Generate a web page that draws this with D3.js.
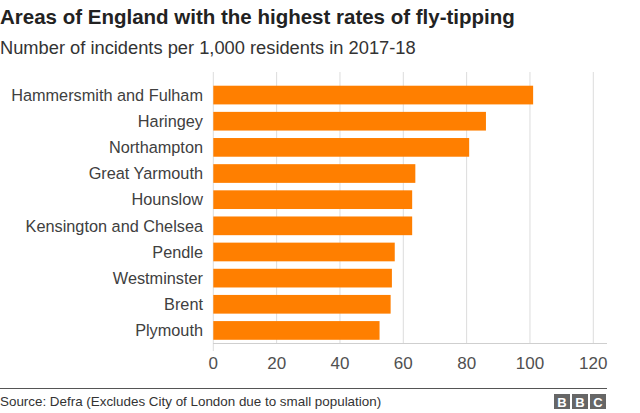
<!DOCTYPE html>
<html><head><meta charset="utf-8">
<script src="https://cdn.jsdelivr.net/npm/d3@7"></script>
<style>body{margin:0;background:#fff}svg{display:block;font-family:"Liberation Sans",Arial,sans-serif}</style>
</head><body><svg id="c" width="640" height="413"></svg>
<script>
const categories = ["Hammersmith and Fulham","Haringey","Northampton","Great Yarmouth","Hounslow","Kensington and Chelsea","Pendle","Westminster","Brent","Plymouth"];
const values = [101,86.1,80.8,63.8,62.8,62.8,57.3,56.4,56,52.5];
const tickValues = [0,20,40,60,80,100,120];
const title = "Areas of England with the highest rates of fly-tipping";
const subtitle = "Number of incidents per 1,000 residents in 2017-18";
const source = "Source: Defra (Excludes City of London due to small population)";

const svg = d3.select("#c");
const x = d3.scaleLinear().domain([0,120]).range([213.3,593.3]);
const y = d3.scaleBand().domain(categories).range([82,343.5]).paddingInner(0.285).paddingOuter(0.142);

svg.append("text").attr("x",0).attr("y",23.5).attr("font-size",20.5).attr("font-weight","bold").attr("fill","#222").text(title);
svg.append("text").attr("x",0).attr("y",54).attr("font-size",18.3).attr("fill","#333").text(subtitle);

// gridlines
svg.append("g").selectAll("line").data(tickValues).join("line")
  .attr("x1",d=>x(d)).attr("x2",d=>x(d)).attr("y1",72).attr("y2",d=>d===0?351:343.5)
  .attr("stroke","#dcdcdc").attr("stroke-width",1);
svg.append("line").attr("x1",213).attr("x2",607).attr("y1",343.5).attr("y2",343.5).attr("stroke","#cfcfcf");

svg.append("g").selectAll("rect").data(categories).join("rect")
  .attr("x",x(0)).attr("y",d=>y(d)).attr("height",y.bandwidth())
  .attr("width",(d,i)=>x(values[i])-x(0)).attr("fill","#ff7f00");

svg.append("g").selectAll("text").data(categories).join("text")
  .attr("x",203).attr("y",d=>y(d)+y.bandwidth()/2).attr("dy","0.35em")
  .attr("text-anchor","end").attr("font-size",16.3).attr("fill","#404040").text(d=>d);

svg.append("g").selectAll("text").data(tickValues).join("text")
  .attr("x",d=>x(d)).attr("y",369).attr("text-anchor","middle")
  .attr("font-size",17).attr("fill","#505050").text(d=>d);

svg.append("line").attr("x1",0).attr("x2",607).attr("y1",388.5).attr("y2",388.5).attr("stroke","#555").attr("stroke-width",1.2);
svg.append("text").attr("x",0).attr("y",405.5).attr("font-size",13.4).attr("fill","#333").text(source);

const bbc = svg.append("g");
["B","B","C"].forEach((l,i)=>{
  const bx = 554 + i*18;
  bbc.append("rect").attr("x",bx).attr("y",394).attr("width",16).attr("height",15).attr("fill","#666");
  bbc.append("text").attr("x",bx+8).attr("y",406.5).attr("text-anchor","middle").attr("font-size",13).attr("font-weight","bold").attr("fill","#fff").text(l);
});
</script></body></html>
